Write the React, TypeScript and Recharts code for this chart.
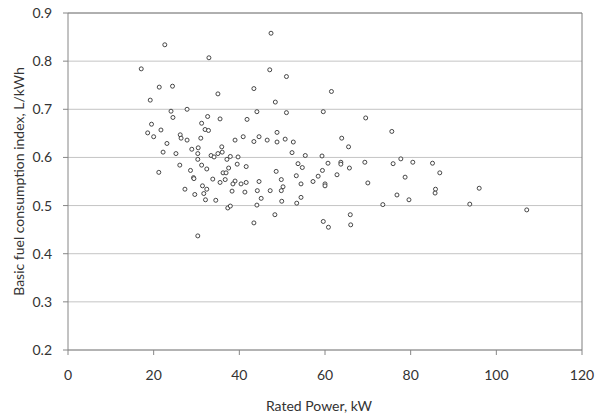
import React from 'react';
import {
  ScatterChart,
  Scatter,
  XAxis,
  YAxis,
  CartesianGrid,
  ReferenceLine
} from 'recharts';

const ratedPower = [
  22.6, 17.1, 21.3, 24.4, 19.2, 24.05, 27.8, 24.5, 19.5, 21.7, 18.6, 20.0, 26.2, 26.4, 27.8, 23.1,
  22.2, 25.2, 26.1, 21.2, 28.6, 27.3, 47.4, 32.9, 47.1, 51.0, 35.0, 43.4, 48.4, 32.6, 35.5, 44.1,
  51.0, 41.8, 31.2, 32.0, 32.8, 31.0, 39.0, 40.9, 44.6, 43.4, 46.5, 48.8, 48.8, 50.7, 52.6, 52.3,
  55.4, 35.9, 30.4, 28.9, 30.3, 36.0, 35.0, 33.4, 34.1, 37.9, 39.7, 37.1, 30.3, 31.2, 39.5, 41.6,
  32.4, 37.5, 36.2, 36.9, 48.6, 53.7, 54.7, 29.3, 29.4, 33.8, 36.7, 35.5, 39.0, 38.5, 40.4, 41.6,
  44.6, 49.8, 53.3, 54.4, 50.2, 49.8, 31.4, 32.4, 29.6, 31.7, 32.1, 34.5, 38.3, 41.3, 44.2, 47.2,
  45.1, 44.1, 49.9, 54.4, 53.4, 37.3, 37.9, 48.3, 43.4, 30.3, 61.5, 59.6, 69.5, 75.6, 63.9, 65.5,
  59.3, 60.7, 63.7, 63.7, 65.7, 69.3, 75.9, 77.7, 80.5, 59.4, 58.4, 62.8, 57.2, 60.0, 60.0, 70.0,
  78.7, 76.8, 79.6, 73.5, 65.9, 59.6, 66.0, 60.8, 85.1, 86.8, 85.8, 85.7, 96.0, 93.8, 107.1
];

const fuelIndex = [
  0.834, 0.784, 0.746, 0.748, 0.719, 0.696, 0.700, 0.683, 0.669, 0.657, 0.651, 0.643, 0.647, 0.640, 0.636, 0.629,
  0.611, 0.608, 0.584, 0.569, 0.573, 0.534, 0.858, 0.807, 0.782, 0.768, 0.732, 0.743, 0.715, 0.685, 0.680, 0.695,
  0.693, 0.679, 0.671, 0.658, 0.656, 0.640, 0.636, 0.643, 0.643, 0.633, 0.636, 0.652, 0.632, 0.638, 0.632, 0.610,
  0.604, 0.622, 0.620, 0.617, 0.608, 0.611, 0.608, 0.604, 0.601, 0.602, 0.601, 0.596, 0.596, 0.584, 0.586, 0.581,
  0.576, 0.578, 0.568, 0.568, 0.571, 0.587, 0.579, 0.558, 0.556, 0.555, 0.554, 0.548, 0.551, 0.545, 0.545, 0.548,
  0.550, 0.554, 0.562, 0.545, 0.539, 0.531, 0.541, 0.534, 0.523, 0.525, 0.512, 0.511, 0.530, 0.528, 0.531, 0.531,
  0.515, 0.501, 0.509, 0.517, 0.505, 0.495, 0.499, 0.481, 0.464, 0.437, 0.737, 0.695, 0.682, 0.654, 0.640, 0.622,
  0.603, 0.588, 0.590, 0.586, 0.578, 0.590, 0.587, 0.597, 0.590, 0.573, 0.561, 0.564, 0.550, 0.545, 0.541, 0.547,
  0.559, 0.522, 0.512, 0.502, 0.481, 0.467, 0.460, 0.455, 0.588, 0.568, 0.534, 0.526, 0.536, 0.503, 0.491
];

const xTicks = [0, 20, 40, 60, 80, 100, 120];
const yTicks = [0.2, 0.3, 0.4, 0.5, 0.6, 0.7, 0.8, 0.9];

const data = ratedPower.map((x, i) => ({ x, y: fuelIndex[i] }));

const font = 'Lato, "Open Sans", sans-serif';
const tickStyle = { fill: '#333', fontSize: 14, fontFamily: font };

// small open circle like the Excel marker
const Dot = (props: any) => {
  const { cx, cy } = props;
  if (cx == null || cy == null) return null;
  return <circle cx={cx} cy={cy} r={2} fill="#fff" stroke="#333" strokeWidth={0.9} />;
};

export default function App() {
  return (
    <div style={{ position: 'absolute', left: 0, top: 0, width: 596, height: 417, background: '#fff' }}>
      <ScatterChart width={596} height={417} margin={{ top: 13, right: 14, left: 0, bottom: 0 }}>
        <CartesianGrid vertical={false} stroke="#c4c4c4" />
        <XAxis
          type="number"
          dataKey="x"
          domain={[0, 120]}
          ticks={xTicks}
          height={67}
          tickSize={5}
          tickMargin={15}
          stroke="#868686"
          tick={tickStyle}
          label={{ value: 'Rated Power, kW', position: 'insideBottom', offset: 6, fill: '#333', fontSize: 14, fontFamily: font, dx: -6 }}
        />
        <YAxis
          type="number"
          dataKey="y"
          domain={[0.2, 0.9]}
          ticks={yTicks}
          width={68}
          tickSize={5}
          tickMargin={11}
          stroke="#868686"
          tick={tickStyle}
          tickFormatter={(v: number) => v.toFixed(1)}
          label={{ value: 'Basic fuel consumption index, L/kWh', angle: -90, position: 'insideLeft', offset: 19, fill: '#333', fontSize: 14, fontFamily: font, style: { textAnchor: 'middle' } }}
        />
        <ReferenceLine y={0.9} stroke="#7f7f7f" />
        <ReferenceLine x={120} stroke="#7f7f7f" />
        <Scatter data={data} shape={<Dot />} isAnimationActive={false} />
      </ScatterChart>
    </div>
  );
}
